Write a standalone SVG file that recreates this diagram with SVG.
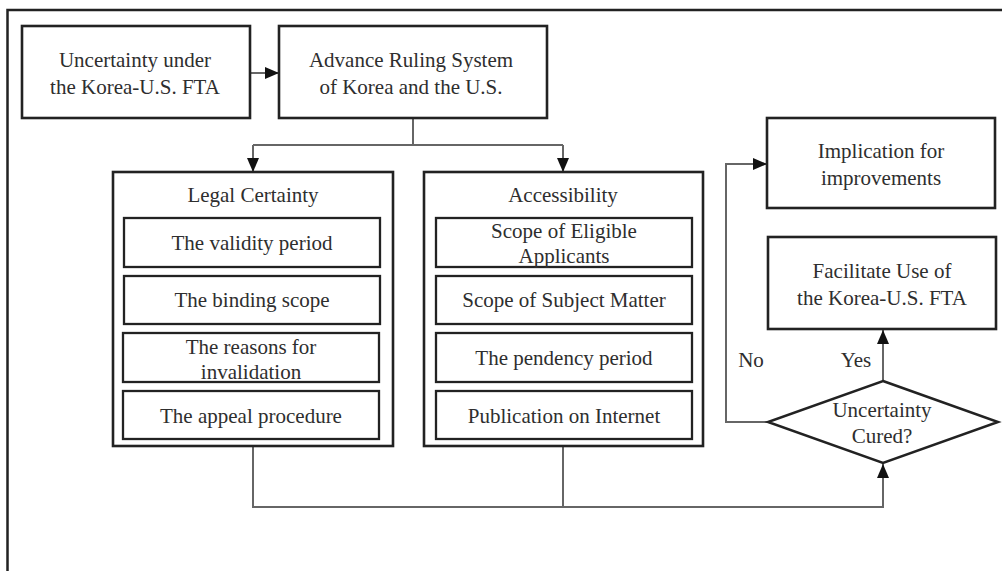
<svg xmlns="http://www.w3.org/2000/svg" width="1002" height="571" viewBox="0 0 1002 571">
<style>
.box{fill:#fff;stroke:#222;stroke-width:2.6}
.inner{fill:#fff;stroke:#222;stroke-width:2.3}
.t{font-family:'Liberation Serif','Times New Roman',serif;font-size:21px;fill:#2e2e2e;text-anchor:middle}
.c{fill:none;stroke:#666;stroke-width:2}
</style>
<defs>
<marker id="ah" viewBox="0 0 14 12" refX="14" refY="6" markerWidth="14" markerHeight="12" markerUnits="userSpaceOnUse" orient="auto">
<path d="M0,0 L14,6 L0,12 Z" fill="#111"/>
</marker>
</defs>
<rect x="0" y="0" width="1002" height="571" fill="#fff"/>
<path d="M7.5,571 V10 H1002" fill="none" stroke="#222" stroke-width="2.5"/>

<g id="connectors">
<path class="c" d="M250,73 H279" marker-end="url(#ah)"/>
<path class="c" d="M413,118 V145"/>
<path class="c" d="M253,145 H563"/>
<path class="c" d="M253,145 V172" marker-end="url(#ah)"/>
<path class="c" d="M563,145 V172" marker-end="url(#ah)"/>
<path class="c" d="M253,446 V507 H883 V464" marker-end="url(#ah)"/>
<path class="c" d="M563,446 V507"/>
<path class="c" d="M883,381 V330" marker-end="url(#ah)"/>
<path class="c" d="M768,422 H726 V164 H767" marker-end="url(#ah)"/>
<text class="t" x="751" y="367">No</text>
<text class="t" x="856" y="367">Yes</text>
</g>

<g id="n-uncertainty">
<rect class="box" x="22" y="26" width="228" height="92"/>
<text class="t" x="135" y="67">Uncertainty  under</text>
<text class="t" x="135" y="94">the Korea-U.S. FTA</text>
</g>

<g id="n-advance">
<rect class="box" x="279" y="26" width="268" height="92"/>
<text class="t" x="411" y="67">Advance Ruling  System</text>
<text class="t" x="411" y="94">of Korea and the U.S.</text>
</g>

<g id="n-legal">
<rect class="box" x="113" y="172" width="280" height="274"/>
<text class="t" x="253" y="202">Legal  Certainty</text>
<rect class="inner" x="124" y="218" width="256" height="49"/>
<text class="t" x="252" y="250">The validity  period</text>
<rect class="inner" x="124" y="276" width="256" height="48"/>
<text class="t" x="252" y="307">The binding  scope</text>
<rect class="inner" x="123" y="333" width="256" height="49"/>
<text class="t" x="251" y="354">The reasons for</text>
<text class="t" x="251" y="379">invalidation</text>
<rect class="inner" x="123" y="391" width="256" height="48"/>
<text class="t" x="251" y="423">The appeal procedure</text>
</g>

<g id="n-access">
<rect class="box" x="424" y="172" width="279" height="274"/>
<text class="t" x="563" y="202">Accessibility</text>
<rect class="inner" x="436" y="218" width="256" height="49"/>
<text class="t" x="564" y="238">Scope of Eligible</text>
<text class="t" x="564" y="263">Applicants</text>
<rect class="inner" x="436" y="276" width="256" height="48"/>
<text class="t" x="564" y="307">Scope of Subject Matter</text>
<rect class="inner" x="436" y="333" width="256" height="49"/>
<text class="t" x="564" y="365">The pendency period</text>
<rect class="inner" x="436" y="391" width="256" height="48"/>
<text class="t" x="564" y="423">Publication  on Internet</text>
</g>

<g id="n-implication">
<rect class="box" x="767" y="118" width="228" height="90"/>
<text class="t" x="881" y="158">Implication  for</text>
<text class="t" x="881" y="185">improvements</text>
</g>

<g id="n-facilitate">
<rect class="box" x="768" y="237" width="228" height="92"/>
<text class="t" x="882" y="278">Facilitate  Use of</text>
<text class="t" x="882" y="305">the Korea-U.S. FTA</text>
</g>

<g id="n-cured">
<polygon points="883,381 998,422 883,463 768,422" fill="#fff" stroke="#222" stroke-width="2.5"/>
<text class="t" x="882" y="417">Uncertainty</text>
<text class="t" x="882" y="443">Cured?</text>
</g>
</svg>
